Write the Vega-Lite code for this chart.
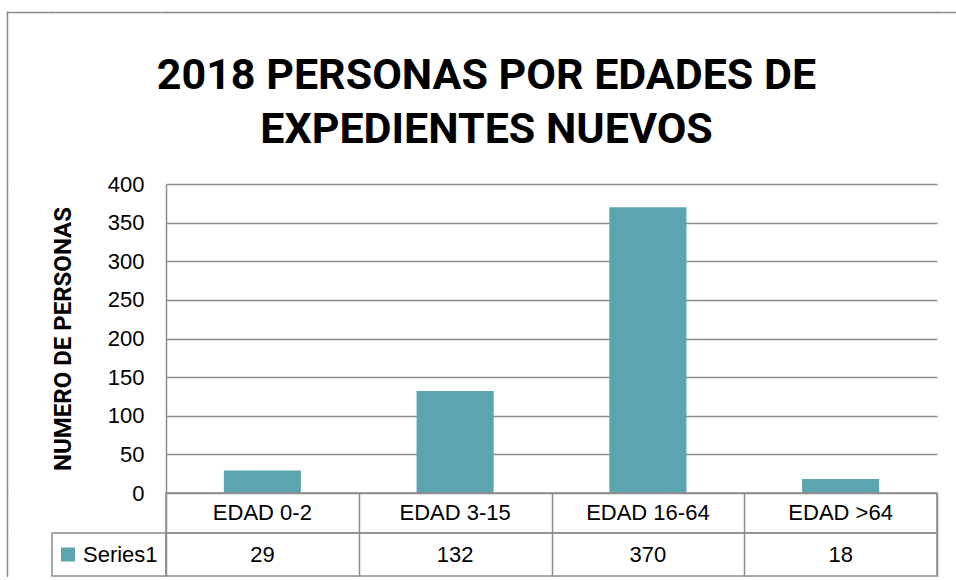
{
  "$schema": "https://vega.github.io/schema/vega-lite/v6.json",
  "padding": {"left": 7, "top": 12, "right": 0, "bottom": 0},
  "background": "white",
  "data": {
    "values": [
      {"edad": "EDAD 0-2", "personas": 29},
      {"edad": "EDAD 3-15", "personas": 132},
      {"edad": "EDAD 16-64", "personas": 370},
      {"edad": "EDAD >64", "personas": 18}
    ]
  },
  "columns": 4,
  "bounds": "flush",
  "spacing": 0,
  "align": "each",
  "resolve": {"scale": {"x": "independent", "y": "independent"}},
  "concat": [
    {
      "width": 45, "height": 172,
      "mark": {"type": "point", "opacity": 0},
      "encoding": {
        "x": {"field": "edad", "type": "nominal", "axis": {"orient": "top", "labels": false, "ticks": false, "grid": false, "title": null, "domainColor": "#8c8c8c", "domainWidth": 1.5, "domainCap": "square"}},
        "y": {"field": "personas", "type": "quantitative", "axis": {"labels": false, "ticks": false, "grid": false, "title": null, "domainColor": "#8c8c8c", "domainWidth": 1.5, "domainCap": "square"}}
      }
    },
    {
      "width": 114, "height": 172,
      "mark": {"type": "point", "opacity": 0},
      "encoding": {
        "x": {"field": "edad", "type": "nominal", "axis": {"orient": "top", "labels": false, "ticks": false, "grid": false, "title": null, "domainColor": "#8c8c8c", "domainWidth": 1.5, "domainCap": "square"}}
      }
    },
    {
      "width": 771, "height": 172,
      "layer": [
        {
          "mark": {"type": "point", "opacity": 0},
          "encoding": {
            "x": {"field": "edad", "type": "nominal", "axis": {"orient": "top", "labels": false, "ticks": false, "grid": false, "title": null, "domainColor": "#8c8c8c", "domainWidth": 1.5, "domainCap": "square"}}
          }
        },
        {
          "data": {"values": [{"titulo": "2018 PERSONAS POR EDADES  DE / EXPEDIENTES NUEVOS"}]},
          "mark": {"type": "text", "font": "Roboto", "fontSize": 43, "fontWeight": "bold", "color": "#000", "lineHeight": 54, "baseline": "middle", "dx": -65, "dy": -22},
          "encoding": {"text": {"value": ["2018 PERSONAS POR EDADES  DE", "EXPEDIENTES NUEVOS"]}}
        }
      ]
    },
    {
      "width": 25, "height": 172,
      "mark": {"type": "point", "opacity": 0},
      "encoding": {
        "x": {"field": "edad", "type": "nominal", "axis": {"orient": "top", "labels": false, "ticks": false, "grid": false, "title": null, "domainColor": "#8c8c8c", "domainWidth": 1.5, "domainCap": "square"}}
      }
    },
    {
      "width": 45, "height": 309,
      "mark": {"type": "point", "opacity": 0},
      "encoding": {
        "y": {"field": "personas", "type": "quantitative", "axis": {"labels": false, "ticks": false, "grid": false, "title": null, "domainColor": "#8c8c8c", "domainWidth": 1.5, "domainCap": "square"}}
      }
    },
    {"width": 114, "height": 309, "data": {"values": []}, "mark": "text", "encoding": {}},
    {
      "width": 771,
      "height": 309,
      "mark": {"type": "bar", "color": "#5BA4B0"},
      "encoding": {
        "x": {"field": "edad", "type": "nominal", "sort": null, "scale": {"paddingInner": 0.6, "paddingOuter": 0.3}, "axis": null},
        "y": {
          "field": "personas", "type": "quantitative",
          "scale": {"domain": [0, 400]},
          "axis": {
            "values": [0, 50, 100, 150, 200, 250, 300, 350, 400],
            "title": "NUMERO DE PERSONAS",
            "titleFont": "Roboto",
            "titleFontSize": 24,
            "titleFontWeight": "bold",
            "titleColor": "#000",
            "titlePadding": 32,
            "labelFont": "Liberation Sans",
            "labelFontSize": 22,
            "labelColor": "#000",
            "labelPadding": 22,
            "ticks": false,
            "domainColor": "#8c8c8c",
            "domainWidth": 1.5,
            "gridColor": "#8c8c8c",
            "gridWidth": 1.5
          }
        }
      }
    },
    {"width": 25, "height": 309, "data": {"values": []}, "mark": "text", "encoding": {}},
    {
      "width": 45, "height": 40,
      "mark": {"type": "point", "opacity": 0},
      "encoding": {
        "y": {"field": "personas", "type": "quantitative", "axis": {"labels": false, "ticks": false, "grid": false, "title": null, "domainColor": "#8c8c8c", "domainWidth": 1.5, "domainCap": "square"}}
      }
    },
    {"width": 114, "height": 40, "data": {"values": []}, "mark": "text", "encoding": {}},
    {
      "width": 771,
      "height": 40,
      "view": {"stroke": "#8c8c8c", "strokeWidth": 1.5},
      "mark": {"type": "text", "fontSize": 22, "font": "Liberation Sans", "color": "#000"},
      "encoding": {
        "x": {"field": "edad", "type": "nominal", "sort": null, "scale": {"paddingInner": 0, "paddingOuter": 0},
          "axis": {"grid": true, "tickBand": "extent", "labels": false, "ticks": false, "domain": false, "title": null, "gridColor": "#8c8c8c", "gridWidth": 1.5}},
        "text": {"field": "edad"}
      }
    },
    {"width": 25, "height": 40, "data": {"values": []}, "mark": "text", "encoding": {}},
    {
      "width": 45, "height": 43,
      "mark": {"type": "point", "opacity": 0},
      "encoding": {
        "y": {"field": "personas", "type": "quantitative", "axis": {"labels": false, "ticks": false, "grid": false, "title": null, "domainColor": "#8c8c8c", "domainWidth": 1.5, "domainCap": "square"}}
      }
    },
    {
      "width": 114,
      "height": 43,
      "view": {"stroke": "#8c8c8c", "strokeWidth": 1.5},
      "data": {"values": [{"serie": "Series1"}]},
      "layer": [
        {"mark": {"type": "point", "shape": "square", "filled": true, "size": 196, "color": "#5BA4B0", "opacity": 1, "xOffset": -41}, "encoding": {}},
        {"mark": {"type": "text", "fontSize": 22, "font": "Liberation Sans", "align": "left", "dx": -26, "color": "#000"}, "encoding": {"text": {"field": "serie"}}}
      ]
    },
    {
      "width": 771,
      "height": 43,
      "view": {"stroke": "#8c8c8c", "strokeWidth": 1.5},
      "mark": {"type": "text", "fontSize": 22, "font": "Liberation Sans", "color": "#000"},
      "encoding": {
        "x": {"field": "edad", "type": "nominal", "sort": null, "scale": {"paddingInner": 0, "paddingOuter": 0},
          "axis": {"grid": true, "tickBand": "extent", "labels": false, "ticks": false, "domain": false, "title": null, "gridColor": "#8c8c8c", "gridWidth": 1.5}},
        "text": {"field": "personas"}
      }
    },
    {"width": 25, "height": 43, "data": {"values": []}, "mark": "text", "encoding": {}}
  ],
  "config": {"view": {"stroke": null}, "font": "Liberation Sans"}
}
